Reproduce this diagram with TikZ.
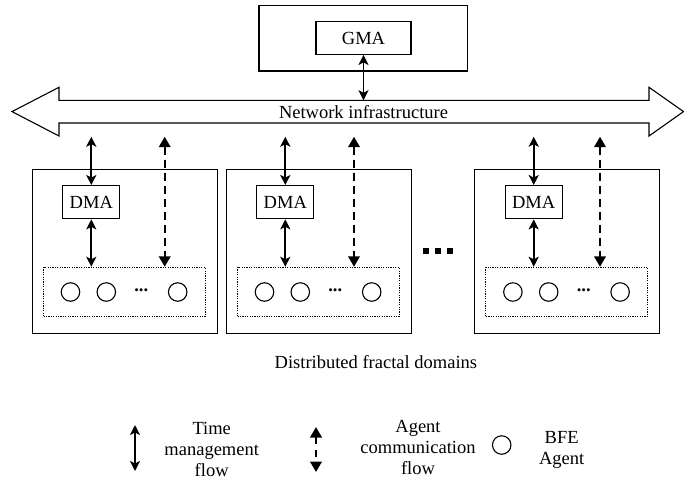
\documentclass[tikz,border=0pt]{standalone}
\usepackage{fontspec}
\setmainfont{Liberation Serif}
\usetikzlibrary{arrows.meta}

\begin{document}
\begin{tikzpicture}[x=1pt,y=-1pt,
  txt/.style={font=\fontsize{18.5}{21}\selectfont, inner sep=0pt},
  frame/.style={draw, line width=1.3pt, inner sep=0pt},
  group/.style={draw, line width=1pt, dash pattern=on 1.2pt off 1.2pt, inner sep=0pt},
  agent/.style={draw, circle, line width=1.1pt, minimum size=18.5pt, inner sep=0pt},
  tm/.style={line width=1.9pt,
    {Stealth[length=10pt,width=10pt,inset=2.5pt]}-{Stealth[length=10pt,width=10pt,inset=2.5pt]}},
  acf/.style={line width=2.3pt, dash pattern=on 8pt off 5pt,
    {Triangle[length=10.5pt,width=11.5pt]}-{Triangle[length=10.5pt,width=11.5pt]}},
  bigdot/.style={fill=black}
]
\useasboundingbox (0,0) rectangle (684,479);

% global manager
\node[frame, minimum width=208.5pt, minimum height=65.7pt] (gmabox) at (363.3,38.2) {};
\node[frame, txt, minimum width=95pt, minimum height=32.6pt] (gma) at (363.5,38) {GMA};

% network infrastructure (double block arrow)
\draw[line width=1.1pt, line join=miter]
  (12,111.6) -- (59,87.3) -- (59,100.3) -- (649,100.3) -- (649,87.3)
  -- (683.5,111.6) -- (649,136) -- (649,123) -- (59,123) -- (59,136) -- cycle;
\node[txt] (net) at (363.5,111.6) {Network infrastructure};
\coordinate (nettop) at (363.5,100.3);
\draw[tm] (gma.south) -- (gma.south |- nettop);

% distributed fractal domains
\foreach \i/\L/\d in {1/32.3/132.4, 2/226.3/127.7, 3/474.7/125.3}{
  \node[frame, minimum width=185pt, minimum height=164pt] (dom\i) at (\L+92.5,251.3) {};
  \node[frame, txt, minimum width=57pt, minimum height=33pt] (dma\i) at (\L+59,202.2) {DMA};
  \node[group, minimum width=161.6pt, minimum height=49.2pt] (grp\i) at (\L+92,291.9) {};
  \node[agent] (ag\i a) at (\L+38.2,292) {};
  \node[agent] (ag\i b) at (\L+74,292) {};
  \node[agent] (ag\i c) at (\L+145.4,292) {};
  \node[txt, font=\fontsize{18.5}{20.5}\selectfont\bfseries] (dots\i) at (\L+109,290) {...};
  \coordinate (tmtop\i) at (\L+59,136.7);
  \coordinate (actop\i) at (\L+\d,136.7);
  \draw[tm] (tmtop\i) -- (dma\i.north);
  \draw[tm] (dma\i.south) -- (dma\i.south |- grp\i.north);
  \draw[acf] (actop\i) -- (actop\i |- grp\i.north);
}

% ellipsis between domains
\fill[bigdot] (423.3,248.3) rectangle (429.3,253.5);
\fill[bigdot] (435,248.3) rectangle (441,253.5);
\fill[bigdot] (447,248.3) rectangle (453,253.5);

\node[txt, anchor=base east] (domlabel) at (477.3,368) {Distributed fractal domains};

% legend
\coordinate (ltma) at (135,425);
\coordinate (ltmb) at (135,471);
\draw[tm] (ltma) -- (ltmb);
\node[txt, align=center] (ltmtext) at (211.7,449) {Time\\management\\flow};

\coordinate (lacfa) at (316,427);
\coordinate (lacfb) at (316,472);
\draw[acf, dash pattern=on 7pt off 6pt] (lacfa) -- (lacfb);
\node[txt, align=center] (lacftext) at (418,447) {Agent\\communication\\flow};

\node[agent] (lagent) at (501.7,445) {};
\node[txt, align=center] (lagenttext) at (561.7,450) {BFE\\Agent};
\end{tikzpicture}
\end{document}
